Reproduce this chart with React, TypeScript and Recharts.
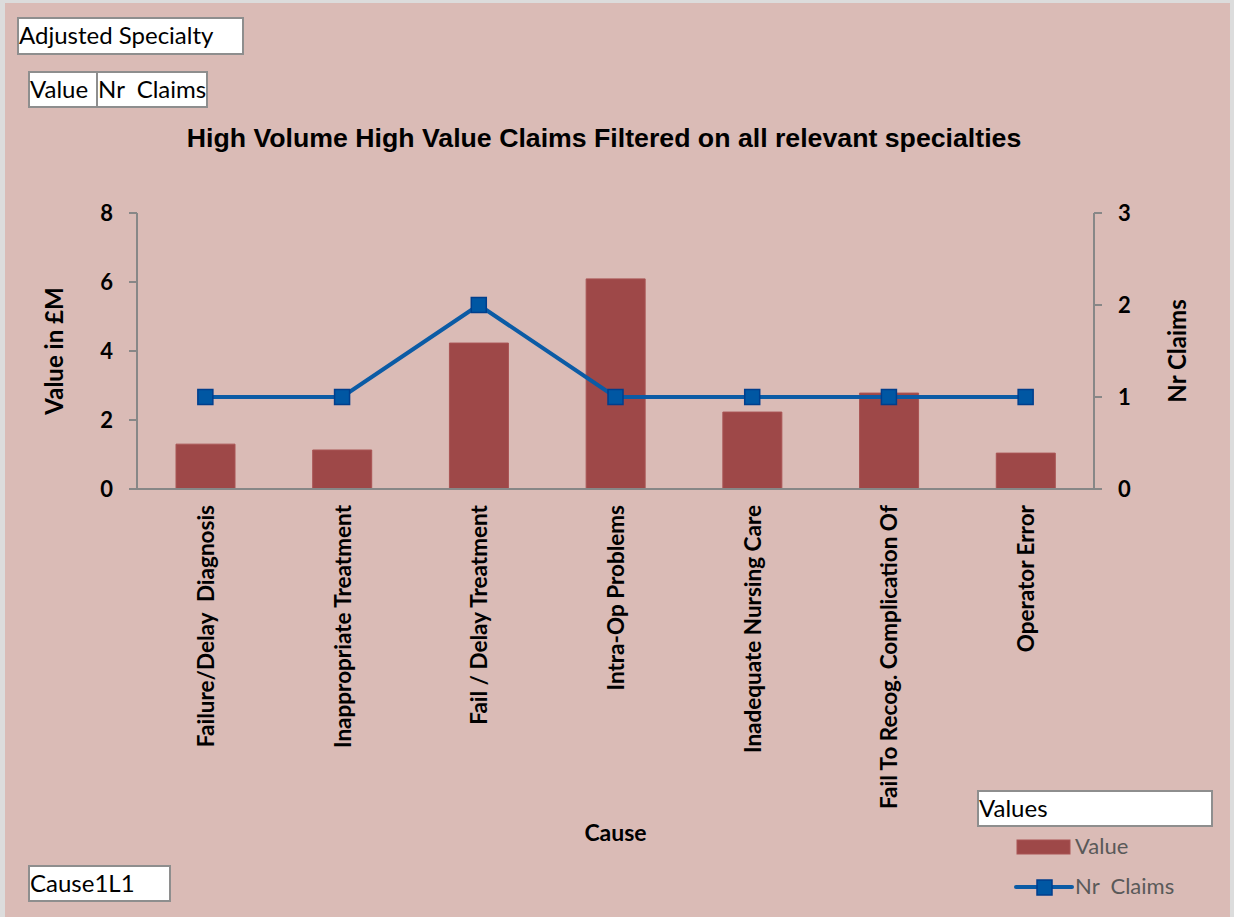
import React from 'react'
import { ComposedChart, Bar, Line, XAxis, YAxis, Legend, Label } from 'recharts'

const causes = [
  'Failure/Delay  Diagnosis',
  'Inappropriate Treatment',
  'Fail / Delay Treatment',
  'Intra-Op Problems',
  'Inadequate Nursing Care',
  'Fail To Recog. Complication Of',
  'Operator Error',
]
const valueM = [1.3, 1.13, 4.23, 6.09, 2.23, 2.78, 1.04]
const nrClaims = [1, 1, 2, 1, 1, 1, 1]
const leftTicks = [0, 2, 4, 6, 8]
const rightTicks = [0, 1, 2, 3]
const boundaryTicks = [0, 1, 2, 3, 4, 5, 6, 7]

const data = causes.map((cause, i) => ({ cause, value: valueM[i], claims: nrClaims[i] }))

const BAR = '#9e4848'
const BAR_EDGE = '#a95454'
const LINE = '#0b5ba5'
const MARK = '#0057a3'
const MARK_EDGE = '#003e8c'
const AXIS = '#878787'
const CAL = 'Lato, "Open Sans", sans-serif'

const tickFont = { fill: '#000', fontSize: 22, fontWeight: 700, fontFamily: CAL }

const CauseTick = ({ x, y, payload }: any) => (
  <text
    transform={`translate(${x},${y}) rotate(-90)`}
    textAnchor="end"
    dominantBaseline="central"
    fontFamily={CAL}
    fontWeight={700}
    fontSize={22.5}
    fill="#000"
    style={{ whiteSpace: 'pre' }}
  >
    {payload.value}
  </text>
)

const SquareDot = ({ cx, cy, index }: any) => (
  <rect key={index} x={cx - 7.5} y={cy - 7.5} width={15} height={15} fill={MARK} stroke={MARK_EDGE} strokeWidth={1.5} />
)

const boxStyle: React.CSSProperties = {
  position: 'absolute',
  background: '#fff',
  border: '2px solid #8e8e8e',
  boxSizing: 'border-box',
  fontFamily: CAL,
  fontSize: 24,
  lineHeight: '31px',
  color: '#000',
  whiteSpace: 'pre',
  paddingLeft: 0,
}

const LegendContent = () => (
  <div style={{ position: 'relative', width: 240, height: 115, fontFamily: CAL }}>
    <div style={{ ...boxStyle, left: 0, top: 0, width: 236, height: 37 }}>Values</div>
    <svg style={{ position: 'absolute', left: 0, top: 40 }} width={100} height={75}>
      <rect x={40} y={10} width={53} height={14} fill={BAR} stroke={BAR_EDGE} />
      <line x1={39} y1={57} x2={95} y2={57} stroke={LINE} strokeWidth={4} strokeLinecap="round" />
      <rect x={60} y={50} width={15} height={15} fill={MARK} stroke={MARK_EDGE} strokeWidth={1.5} />
    </svg>
    <div style={{ position: 'absolute', left: 98, top: 42, fontSize: 22, color: '#595959', lineHeight: '28px' }}>Value</div>
    <div style={{ position: 'absolute', left: 98, top: 82, fontSize: 22, color: '#595959', lineHeight: '28px', whiteSpace: 'pre' }}>Nr  Claims</div>
  </div>
)

export default function App() {
  return (
    <div style={{ position: 'relative', width: 1234, height: 917, background: '#dcdcdc', overflow: 'hidden' }}>
      <style>{'body{margin:0}'}</style>
      <div style={{ position: 'absolute', left: 5, top: 3, width: 1225, height: 914, background: '#dabbb6' }} />

      <div style={{ ...boxStyle, left: 17, top: 17, width: 227, height: 38 }}>Adjusted Specialty</div>
      <div style={{ ...boxStyle, left: 28, top: 71, width: 70, height: 37 }}>Value</div>
      <div style={{ ...boxStyle, left: 96, top: 71, width: 112, height: 37 }}>Nr  Claims</div>
      <div style={{ ...boxStyle, left: 28, top: 865, width: 143, height: 37 }}>Cause1L1</div>

      <div
        style={{
          position: 'absolute',
          left: 0,
          width: 1208,
          top: 122,
          lineHeight: '32px',
          textAlign: 'center',
          fontFamily: '"Liberation Sans", Arial, sans-serif',
          fontWeight: 700,
          fontSize: 26.7,
          color: '#000',
        }}
      >
        High Volume High Value Claims Filtered on all relevant specialties
      </div>

      <div style={{ position: 'absolute', left: 0, top: 0 }}>
        <ComposedChart width={1234} height={917} data={data} margin={{ top: 213, right: 0, bottom: 128, left: 0 }}>
          <XAxis
            xAxisId="grid"
            type="number"
            domain={[0, 7]}
            ticks={boundaryTicks}
            tick={false}
            tickSize={7}
            axisLine={false}
            height={0}
            stroke={AXIS}
            strokeWidth={2}
          />
          <XAxis
            xAxisId="cat"
            dataKey="cause"
            interval={0}
            height={300}
            tickLine={false}
            tickSize={0}
            tickMargin={16}
            tick={<CauseTick />}
            axisLine={{ stroke: AXIS, strokeWidth: 2 }}
          >
            <Label
              content={({ viewBox }: any) => (
                <text
                  x={viewBox.x + viewBox.width / 2}
                  y={832}
                  textAnchor="middle"
                  dominantBaseline="central"
                  fontFamily={CAL}
                  fontWeight={700}
                  fontSize={23}
                  fill="#000"
                >
                  Cause
                </text>
              )}
            />
          </XAxis>
          <YAxis
            yAxisId="left"
            width={137}
            domain={[0, 8]}
            ticks={leftTicks}
            tickSize={8}
            tickMargin={16}
            stroke={AXIS}
            strokeWidth={2}
            tick={tickFont}
          >
            <Label
              content={({ viewBox }: any) => (
                <text
                  transform={`translate(${viewBox.x + 53},${viewBox.y + viewBox.height / 2}) rotate(-90)`}
                  textAnchor="middle"
                  dominantBaseline="central"
                  fontFamily={CAL}
                  fontWeight={700}
                  fontSize={24}
                  fill="#000"
                >
                  Value in £M
                </text>
              )}
            />
          </YAxis>
          <YAxis
            yAxisId="right"
            orientation="right"
            width={140}
            domain={[0, 3]}
            ticks={rightTicks}
            tickSize={8}
            tickMargin={16}
            stroke={AXIS}
            strokeWidth={2}
            tick={tickFont}
          >
            <Label
              content={({ viewBox }: any) => (
                <text
                  transform={`translate(${viewBox.x + 82},${viewBox.y + viewBox.height / 2}) rotate(-90)`}
                  textAnchor="middle"
                  dominantBaseline="central"
                  fontFamily={CAL}
                  fontWeight={700}
                  fontSize={24}
                  fill="#000"
                >
                  Nr Claims
                </text>
              )}
            />
          </YAxis>
          <Legend
            layout="horizontal"
            verticalAlign="middle"
            align="center"
            content={<LegendContent />}
            wrapperStyle={{ position: 'absolute', left: 977, top: 790, width: 240, height: 115 }}
          />
          <Bar
            xAxisId="cat"
            yAxisId="left"
            dataKey="value"
            name="Value"
            barSize={59}
            fill={BAR}
            stroke={BAR_EDGE}
            isAnimationActive={false}
          />
          <Line
            xAxisId="cat"
            yAxisId="right"
            dataKey="claims"
            name="Nr  Claims"
            stroke={LINE}
            strokeWidth={4}
            dot={<SquareDot />}
            activeDot={false}
            isAnimationActive={false}
          />
        </ComposedChart>
      </div>
    </div>
  )
}
